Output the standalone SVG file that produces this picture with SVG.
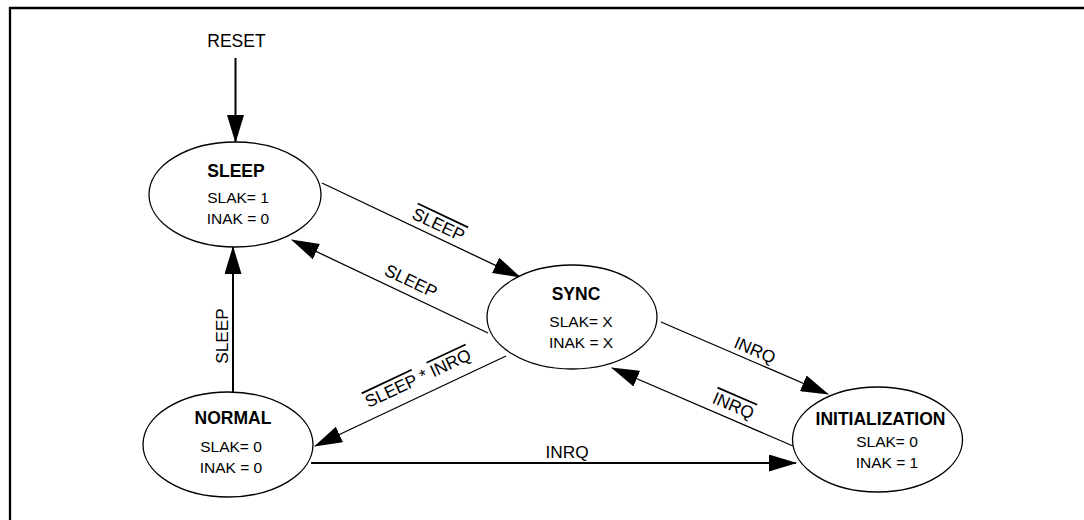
<svg xmlns="http://www.w3.org/2000/svg" width="1084" height="520" viewBox="0 0 1084 520">
<style>
.frame{fill:none;stroke:#000;stroke-width:2.3}
.node ellipse{fill:#fff;stroke:#000;stroke-width:1.3}
.title{font-family:"Liberation Sans",Arial,sans-serif;font-weight:bold;font-size:17.5px;text-anchor:middle;fill:#000}
.val{font-family:"Liberation Sans",Arial,sans-serif;font-size:15.5px;text-anchor:middle;fill:#000}
.lbl{font-family:"Liberation Sans",Arial,sans-serif;font-size:17.3px;text-anchor:middle;fill:#000}
.ob{text-decoration:overline}
.thin{stroke:#000;stroke-width:1.3;fill:none}
.thick{stroke:#000;stroke-width:2;fill:none}
</style>
<defs>
<marker id="ah" markerUnits="userSpaceOnUse" markerWidth="28" markerHeight="17" refX="27" refY="8.5" orient="auto" viewBox="0 0 28 17">
<path d="M0,0 L28,8.5 L0,17 z" fill="#000"/>
</marker>
</defs>
<path class="frame" d="M10,530 L10,8 L1094,8"/>
<g id="connectors">
<line class="thick" x1="235.5" y1="58" x2="235.5" y2="142" marker-end="url(#ah)"/>
<line class="thin" x1="322" y1="183" x2="520" y2="277" marker-end="url(#ah)"/>
<line class="thin" x1="488" y1="333" x2="292" y2="240" marker-end="url(#ah)"/>
<line class="thin" x1="661" y1="322" x2="828" y2="394" marker-end="url(#ah)"/>
<line class="thin" x1="793" y1="446" x2="612" y2="368" marker-end="url(#ah)"/>
<line class="thin" x1="506" y1="356" x2="315" y2="446" marker-end="url(#ah)"/>
<line class="thick" x1="233" y1="392" x2="233" y2="247" marker-end="url(#ah)"/>
<line class="thick" x1="311" y1="463" x2="796" y2="463" marker-end="url(#ah)"/>
<text class="lbl" x="236.5" y="47" style="font-size:17.5px">RESET</text>
<text class="lbl" transform="translate(436,230) rotate(25.4)"><tspan class="ob">SLEEP</tspan></text>
<text class="lbl" transform="translate(408.5,286.5) rotate(25.4)">SLEEP</text>
<text class="lbl" transform="translate(752.5,355.5) rotate(23.3)">INRQ</text>
<text class="lbl" transform="translate(731,411) rotate(23.3)"><tspan class="ob">INRQ</tspan></text>
<text class="lbl" transform="translate(420.5,383.5) rotate(-25.2)"><tspan class="ob">SLEEP</tspan> * <tspan class="ob">INRQ</tspan></text>
<text class="lbl" transform="translate(228,336) rotate(-90)">SLEEP</text>
<text class="lbl" x="567" y="458">INRQ</text>
</g>
<g id="sleep" class="node">
<ellipse cx="235" cy="194.5" rx="86" ry="52.5"/>
<text class="title" x="236" y="177">SLEEP</text>
<text class="val" x="238" y="203">SLAK= 1</text>
<text class="val" x="238" y="224">INAK = 0</text>
</g>
<g id="sync" class="node">
<ellipse cx="572" cy="317" rx="85" ry="52"/>
<text class="title" x="576" y="300">SYNC</text>
<text class="val" x="581" y="327">SLAK= X</text>
<text class="val" x="581" y="348">INAK = X</text>
</g>
<g id="normal" class="node">
<ellipse cx="228" cy="444.5" rx="85" ry="52.5"/>
<text class="title" x="233" y="424">NORMAL</text>
<text class="val" x="231" y="452">SLAK= 0</text>
<text class="val" x="231" y="473">INAK = 0</text>
</g>
<g id="initialization" class="node">
<ellipse cx="877.5" cy="439.5" rx="85" ry="52.5"/>
<text class="title" x="880.5" y="425">INITIALIZATION</text>
<text class="val" x="887" y="447">SLAK= 0</text>
<text class="val" x="887" y="468">INAK = 1</text>
</g>
</svg>
